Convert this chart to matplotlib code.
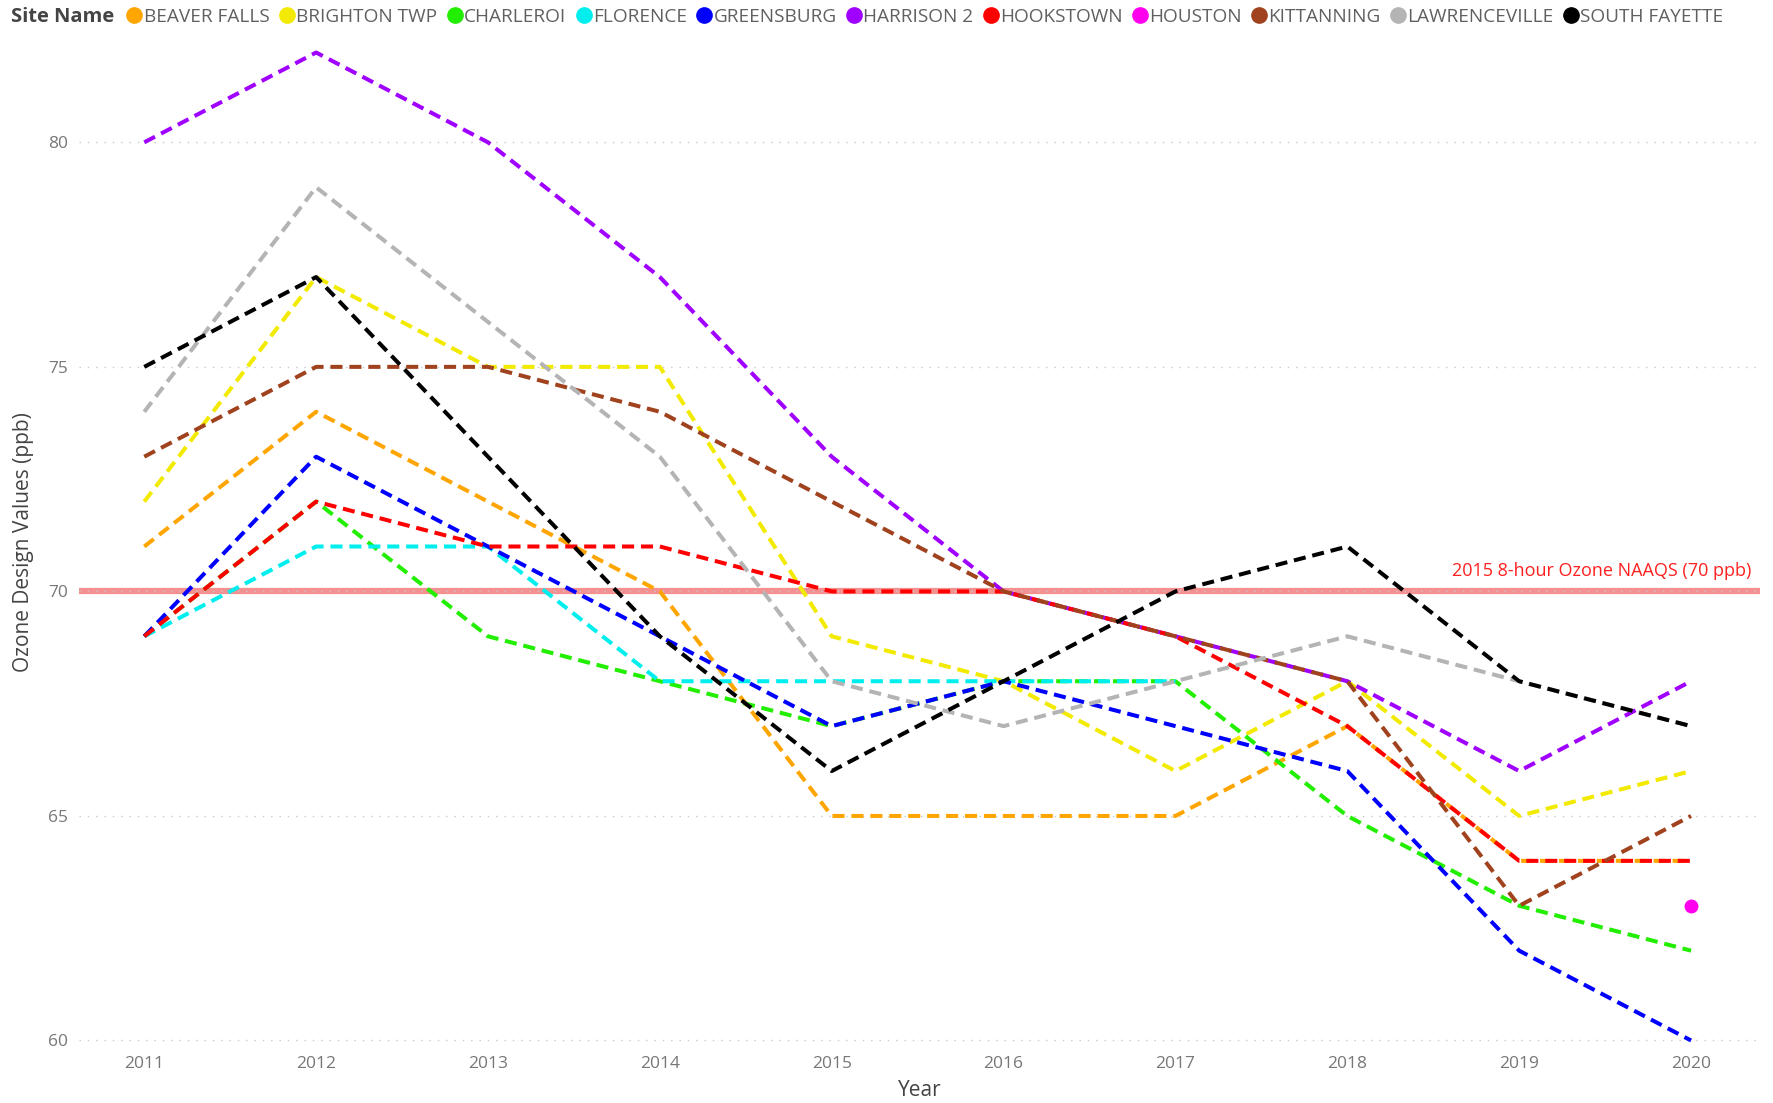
import matplotlib.pyplot as plt
import numpy as np

plt.rcParams['font.family'] = ['Open Sans', 'DejaVu Sans']

years = [2011, 2012, 2013, 2014, 2015, 2016, 2017, 2018, 2019, 2020]
nan = np.nan

sites = ["BEAVER FALLS", "BRIGHTON TWP", "CHARLEROI", "FLORENCE", "GREENSBURG",
         "HARRISON 2", "HOOKSTOWN", "HOUSTON", "KITTANNING", "LAWRENCEVILLE",
         "SOUTH FAYETTE"]
colors = ["#FFA500", "#F2EA00", "#22EE00", "#00EEEE", "#0000FF",
          "#A000FF", "#FF0000", "#FF00EE", "#A0421E", "#B4B4B4", "#000000"]

beaver_falls = [71, 74, 72, 70, 65, 65, 65, 67, 64, 64]
brighton_twp = [72, 77, 75, 75, 69, 68, 66, 68, 65, 66]
charleroi = [69, 72, 69, 68, 67, 68, 68, 65, 63, 62]
florence = [69, 71, 71, 68, 68, 68, 68, nan, nan, nan]
greensburg = [69, 73, 71, 69, 67, 68, 67, 66, 62, 60]
harrison_2 = [80, 82, 80, 77, 73, 70, 69, 68, 66, 68]
hookstown = [69, 72, 71, 71, 70, 70, 69, 67, 64, 64]
houston = [nan, nan, nan, nan, nan, nan, nan, nan, nan, 63]
kittanning = [73, 75, 75, 74, 72, 70, 69, 68, 63, 65]
lawrenceville = [74, 79, 76, 73, 68, 67, 68, 69, 68, 67]
south_fayette = [75, 77, 73, 69, 66, 68, 70, 71, 68, 67]

values = [beaver_falls, brighton_twp, charleroi, florence, greensburg,
          harrison_2, hookstown, houston, kittanning, lawrenceville, south_fayette]

naaqs = 70

fig = plt.figure(figsize=(17.74, 11.03), dpi=100)
ax = fig.add_axes([0.0445, 0.0526, 0.9475, 0.912])

# reference line first so series sit on top of it
ax.axhline(naaqs, color="#F26B6B", lw=4.5, alpha=0.75, zorder=1)
ax.text(2020.35, naaqs + 0.25, "2015 8-hour Ozone NAAQS (70 ppb)", color="#FF2020",
        fontsize=13, ha="right", va="bottom")

handles = []
for i, (name, col, v) in enumerate(zip(sites, colors, values)):
    v = np.array(v, dtype=float)
    if np.count_nonzero(~np.isnan(v)) == 1:
        ax.plot(years, v, 'o', color=col, ms=9, zorder=3 + i)
    else:
        ax.plot(years, v, color=col, lw=2.9, linestyle=(0, (3.0, 1.7)),
                zorder=3 + i)
    handles.append(plt.Line2D([], [], marker='o', ls='', color=col, ms=11))

ax.set_xlim(2010.62, 2020.4)
ax.set_ylim(59.9, 82.3)
ax.set_xticks(years)
ax.set_yticks([60, 65, 70, 75, 80])
ax.tick_params(length=0, labelsize=12.5, colors="#777777", pad=8)
ax.yaxis.grid(True, linestyle=(0, (1, 5)), color="#C8C8C8", lw=1)
for s in ax.spines.values():
    s.set_visible(False)
ax.set_xlabel("Year", fontsize=15, color="#444444", labelpad=6)
ax.set_ylabel("Ozone Design Values (ppb)", fontsize=15, color="#444444", labelpad=10)

fig.text(0.006, 0.985, "Site Name", fontsize=14.5, fontweight="bold",
         color="#444444", va="center")
fig.legend(handles, sites, loc="center left", bbox_to_anchor=(0.064, 0.985),
           ncol=len(sites), frameon=False, fontsize=13.7, handletextpad=-0.1,
           columnspacing=0.3, handlelength=1.2, borderpad=0, labelcolor="#606060")

fig.savefig("out.png", dpi=100)
